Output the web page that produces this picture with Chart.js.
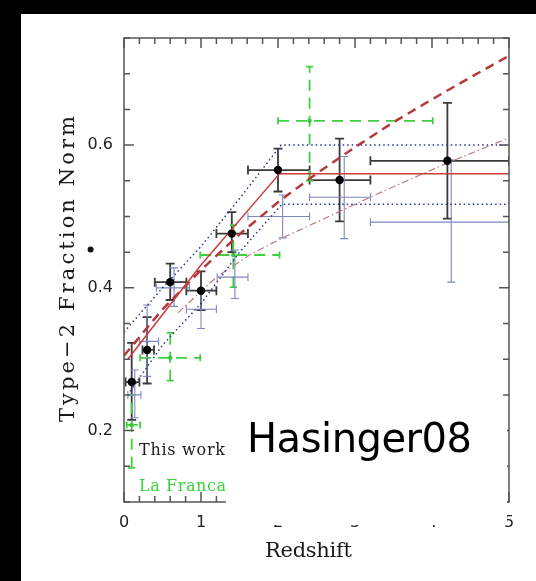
<!DOCTYPE html>
<html>
<head>
<meta charset="utf-8">
<script src="https://cdn.jsdelivr.net/npm/chart.js@4"></script>
<style>
html, body { margin: 0; padding: 0; background: #000; }
#wrap { position: absolute; left: 21px; top: 14px; width: 515px; height: 567px; background: #fff; }
</style>
</head>
<body>
<div id="wrap"><canvas id="chart"></canvas></div>
<script>
// Ejes
const xTickValues = [0, 1, 2, 3, 4, 5];
const yTickValues = [0.2, 0.4, 0.6];

// This work (puntos negros)
const workZ   = [0.1, 0.3, 0.6, 1.0, 1.4, 2.0, 2.8, 4.2];
const workF   = [0.268, 0.313, 0.408, 0.396, 0.476, 0.565, 0.551, 0.578];
const workZLo = [0.02, 0.24, 0.40, 0.81, 1.2, 1.61, 2.41, 3.2];
const workZHi = [0.2, 0.39, 0.81, 1.2, 1.61, 2.41, 3.2, 5.0];
const workFLo = [0.215, 0.266, 0.383, 0.369, 0.45, 0.535, 0.493, 0.497];
const workFHi = [0.323, 0.359, 0.434, 0.423, 0.506, 0.595, 0.609, 0.659];

// otra muestra (barras azules)
const altZ   = [0.14, 0.3, 0.65, 1.0, 1.44, 2.06, 2.86, 4.25];
const altF   = [0.25, 0.325, 0.40, 0.37, 0.415, 0.50, 0.527, 0.492];
const altZLo = [0.05, 0.2, 0.42, 0.81, 1.21, 1.61, 2.41, 3.2];
const altZHi = [0.22, 0.45, 0.85, 1.2, 1.61, 2.41, 3.2, 5.0];
const altFLo = [0.218, 0.276, 0.374, 0.343, 0.385, 0.47, 0.469, 0.408];
const altFHi = [0.285, 0.376, 0.428, 0.396, 0.453, 0.53, 0.584, 0.579];

// La Franca (verde)
const francaZ   = [0.1, 0.6, 1.42, 2.41];
const francaF   = [0.208, 0.302, 0.446, 0.634];
const francaZLo = [0.035, 0.21, 0.99, 2.0];
const francaZHi = [0.21, 0.99, 2.02, 4.01];
const francaFLo = [0.148, 0.27, 0.401, 0.55];
const francaFHi = [0.25, 0.337, 0.488, 0.71];

// curvas
const fitZ = [0.05, 1.0, 2.02, 5.0];
const fitF = [0.30, 0.432, 0.56, 0.56];
const evoZ = [0, 0.5, 1, 1.5, 2, 2.5, 3, 3.5, 4, 4.5, 5];
const evoF = [0.305, 0.37, 0.425, 0.475, 0.52, 0.56, 0.597, 0.632, 0.664, 0.695, 0.725];
const upZ = [0, 0.5, 1, 1.5, 2.04, 5];
const upF = [0.338, 0.4, 0.458, 0.525, 0.6, 0.6];
const lowZ = [0.08, 0.5, 1, 1.5, 2.05, 5];
const lowF = [0.255, 0.32, 0.378, 0.45, 0.517, 0.517];
const ddZ = [0.7, 1.2, 1.63, 2.06, 2.8, 3.4, 4.2, 5];
const ddF = [0.365, 0.415, 0.446, 0.47, 0.507, 0.537, 0.575, 0.61];

const pts = (xs, ys) => xs.map((v, i) => ({ x: v, y: ys[i] }));

// Barras de error
const errorBars = {
  id: 'errorBars',
  beforeDatasetsDraw(chart) {
    const { ctx, chartArea: a, scales: { x, y } } = chart;
    ctx.save();
    ctx.beginPath();
    ctx.rect(a.left, a.top, a.right - a.left, a.bottom - a.top);
    ctx.clip();
    chart.data.datasets.forEach(ds => {
      const e = ds.err;
      if (!e) return;
      ctx.strokeStyle = e.color;
      ctx.lineWidth = e.width;
      ds.data.forEach((p, i) => {
        const px = x.getPixelForValue(p.x), py = y.getPixelForValue(p.y);
        const x0 = x.getPixelForValue(e.xLo[i]), x1 = x.getPixelForValue(e.xHi[i]);
        const y0 = y.getPixelForValue(e.yLo[i]), y1 = y.getPixelForValue(e.yHi[i]);
        ctx.setLineDash(e.dash || []);
        ctx.beginPath();
        ctx.moveTo(x0, py); ctx.lineTo(x1, py);
        ctx.moveTo(px, y0); ctx.lineTo(px, y1);
        ctx.stroke();
        ctx.setLineDash([]);
        const c = e.cap;
        ctx.beginPath();
        ctx.moveTo(x0, py - c); ctx.lineTo(x0, py + c);
        ctx.moveTo(x1, py - c); ctx.lineTo(x1, py + c);
        ctx.moveTo(px - c, y0); ctx.lineTo(px + c, y0);
        ctx.moveTo(px - c, y1); ctx.lineTo(px + c, y1);
        ctx.stroke();
      });
    });
    ctx.restore();
  }
};

function spacedText(ctx, text, x, y, width, font) {
  ctx.font = font;
  ctx.letterSpacing = '0px';
  const w = ctx.measureText(text).width;
  ctx.letterSpacing = ((width - w) / (text.length - 1)) + 'px';
  ctx.fillText(text, x, y);
  ctx.letterSpacing = '0px';
}

// Marco, ticks interiores y textos
const frame = {
  id: 'frame',
  afterDraw(chart) {
    const { ctx, chartArea: a, scales: { x, y } } = chart;
    ctx.save();
    ctx.strokeStyle = '#555';
    ctx.lineWidth = 1.5;
    ctx.strokeRect(a.left, a.top, a.right - a.left, a.bottom - a.top);
    ctx.beginPath();
    for (let k = 0; k <= 25; k++) {
      const px = x.getPixelForValue(k * 0.2);
      const len = k % 5 === 0 ? 10 : 6;
      ctx.moveTo(px, a.bottom); ctx.lineTo(px, a.bottom - len);
      ctx.moveTo(px, a.top); ctx.lineTo(px, a.top + len);
    }
    for (let k = 2; k <= 15; k++) {
      const py = y.getPixelForValue(k * 0.05);
      const len = k % 4 === 0 ? 10 : 6;
      ctx.moveTo(a.left, py); ctx.lineTo(a.left + len, py);
      ctx.moveTo(a.right, py); ctx.lineTo(a.right - len, py);
    }
    ctx.stroke();

    ctx.textAlign = 'left';
    ctx.textBaseline = 'alphabetic';
    ctx.fillStyle = '#1a1a1a';
    spacedText(ctx, 'This work', 118, 441, 86, '16px "DejaVu Serif"');
    ctx.fillStyle = '#3bd33b';
    spacedText(ctx, 'La Franca', 118, 477, 87, '16px "DejaVu Serif"');

    // recuadro blanco con etiqueta
    ctx.fillStyle = '#fff';
    ctx.fillRect(205, 384, 281, 127);
    ctx.fillStyle = '#000';
    spacedText(ctx, 'Hasinger08', 226, 438, 225, '40px "DejaVu Sans"');

    ctx.fillStyle = '#1a1a1a';
    spacedText(ctx, 'Redshift', 244, 543, 87, '21px "DejaVu Serif"');

    ctx.save();
    ctx.translate(53, 408);
    ctx.rotate(-Math.PI / 2);
    spacedText(ctx, 'Type\u22122 Fraction Norm', 0, 0, 306, '21px "DejaVu Serif"');
    ctx.restore();

    ctx.fillStyle = '#111';
    ctx.beginPath();
    ctx.arc(69.6, 235.6, 3, 0, Math.PI * 2);
    ctx.fill();
    ctx.restore();
  }
};

const ctx = document.getElementById('chart');
new Chart(ctx, {
  type: 'scatter',
  data: {
    datasets: [
      {
        label: 'This work',
        data: pts(workZ, workF),
        pointRadius: 4.2,
        pointBackgroundColor: '#000',
        pointBorderWidth: 0,
        err: { xLo: workZLo, xHi: workZHi, yLo: workFLo, yHi: workFHi, color: '#3a3a3a', width: 1.8, cap: 4.5 }
      },
      {
        label: 'La Franca',
        data: pts(francaZ, francaF),
        pointRadius: 2.2,
        pointBackgroundColor: '#33cc33',
        pointBorderWidth: 0,
        err: { xLo: francaZLo, xHi: francaZHi, yLo: francaFLo, yHi: francaFHi, color: '#3fcf3f', width: 1.8, cap: 3.5, dash: [11, 7] }
      },
      {
        label: 'alt',
        data: pts(altZ, altF),
        pointRadius: 0,
        err: { xLo: altZLo, xHi: altZHi, yLo: altFLo, yHi: altFHi, color: '#7d88bd', width: 1.1, cap: 4 }
      },
      {
        label: 'fit',
        data: pts(fitZ, fitF),
        showLine: true, pointRadius: 0,
        borderColor: '#cc3b3b', borderWidth: 1.5
      },
      {
        label: 'evo',
        data: pts(evoZ, evoF),
        showLine: true, pointRadius: 0,
        borderColor: '#b5393c', borderWidth: 2.5, borderDash: [9, 6]
      },
      {
        label: 'upper',
        data: pts(upZ, upF),
        showLine: true, pointRadius: 0,
        borderColor: '#2b3594', borderWidth: 1.5, borderDash: [1.5, 3]
      },
      {
        label: 'lower',
        data: pts(lowZ, lowF),
        showLine: true, pointRadius: 0,
        borderColor: '#2b3594', borderWidth: 1.5, borderDash: [1.5, 3]
      },
      {
        label: 'dashdot',
        data: pts(ddZ, ddF),
        showLine: true, pointRadius: 0,
        borderColor: '#b97f7f', borderWidth: 1.2, borderDash: [7, 3, 1.5, 3]
      }
    ]
  },
  options: {
    responsive: true,
    maintainAspectRatio: false,
    animation: false,
    layout: { padding: { top: 24, right: 27, left: 0, bottom: 0 } },
    plugins: { legend: { display: false }, tooltip: { enabled: false } },
    scales: {
      x: {
        type: 'linear', min: 0, max: 5,
        grid: { display: false, drawTicks: false },
        border: { display: false },
        afterBuildTicks: s => { s.ticks = xTickValues.map(v => ({ value: v })); },
        afterFit: s => { s.height = 79; },
        ticks: {
          padding: 11, color: '#222', autoSkip: false, maxRotation: 0,
          font: { family: 'DejaVu Sans', size: 16 },
          callback: v => String(v)
        }
      },
      y: {
        type: 'linear', min: 0.1, max: 0.75,
        grid: { display: false, drawTicks: false },
        border: { display: false },
        afterBuildTicks: s => { s.ticks = yTickValues.map(v => ({ value: v })); },
        afterFit: s => { s.width = 103; },
        ticks: {
          padding: 11, color: '#222',
          font: { family: 'DejaVu Sans', size: 16 },
          callback: v => v.toFixed(1)
        }
      }
    }
  },
  plugins: [errorBars, frame]
});
</script>
</body>
</html>
